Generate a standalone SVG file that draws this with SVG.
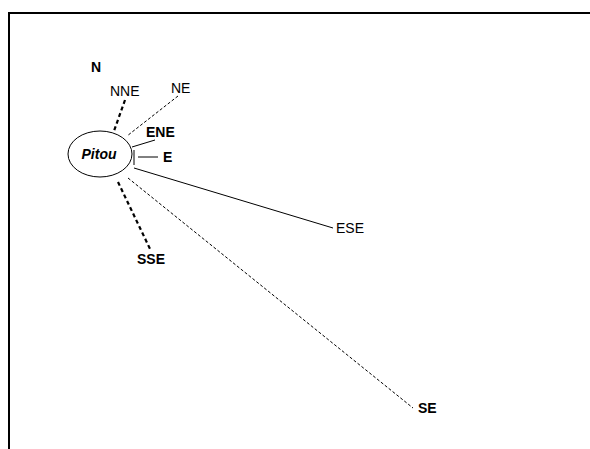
<svg xmlns="http://www.w3.org/2000/svg" width="590" height="449" viewBox="0 0 590 449">
<style>
.lbl{font-family:"Liberation Sans",Arial,sans-serif;font-size:14px;fill:#000}
.b{font-weight:bold}
.ln{stroke:#000;fill:none;stroke-width:1}
.dash{stroke-dasharray:3 2}
.thick{stroke-width:2.2;stroke-dasharray:4 3}
</style>
<rect width="590" height="449" fill="#fff"/>
<path d="M9 449 V13 H590" fill="none" stroke="#000" stroke-width="2"/>
<g id="connectors">
<line class="ln thick" x1="125" y1="100" x2="114" y2="131"/>
<line class="ln dash" x1="178" y1="96" x2="127" y2="136"/>
<line class="ln" x1="132" y1="147" x2="155" y2="140"/>
<line class="ln" x1="138" y1="157" x2="158" y2="157"/>
<line class="ln" x1="134" y1="150" x2="134" y2="165" stroke-width="2"/>
<line class="ln" x1="134" y1="168" x2="333" y2="228"/>
<line class="ln dash" x1="128" y1="178" x2="413" y2="408"/>
<line class="ln thick" x1="118" y1="182" x2="151" y2="251"/>
</g>
<g id="center">
<ellipse class="ln" cx="100" cy="154" rx="32" ry="23"/>
<text class="lbl b" x="99" y="159" text-anchor="middle" font-style="italic" font-size="13">Pitou</text>
</g>
<g id="n"><text class="lbl b" x="96" y="72" text-anchor="middle">N</text></g>
<g id="nne"><text class="lbl" x="110" y="96">NNE</text></g>
<g id="ne"><text class="lbl" x="171" y="93">NE</text></g>
<g id="ene"><text class="lbl b" x="146" y="137">ENE</text></g>
<g id="e"><text class="lbl b" x="163" y="162">E</text></g>
<g id="ese"><text class="lbl" x="336" y="233">ESE</text></g>
<g id="se"><text class="lbl b" x="418" y="413">SE</text></g>
<g id="sse"><text class="lbl b" x="137" y="264">SSE</text></g>
</svg>
